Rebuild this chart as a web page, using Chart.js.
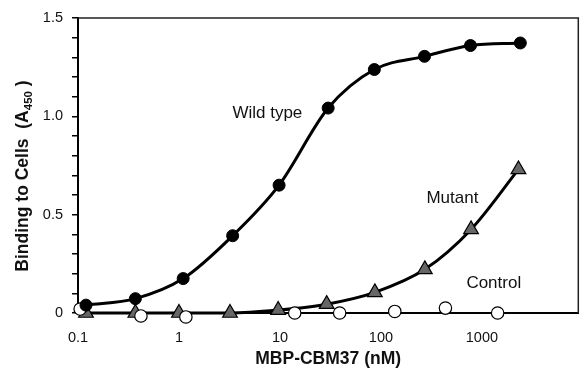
<!DOCTYPE html>
<html lang="en">
<head>
  <meta charset="UTF-8">
  <title>MBP-CBM37 binding</title>
  <script src="https://cdn.jsdelivr.net/npm/chart.js"></script>
  <style>
    html, body { margin: 0; padding: 0; background: #fff; }
    #wrap { width: 588px; height: 380px; position: relative; }
  </style>
</head>
<body>
  <div id="wrap"><canvas id="chart" width="588" height="380"></canvas></div>
  <script>
    // concentrations (nM) and A450 readings
    const wildX = [0.12, 0.37, 1.1, 3.4, 9.8, 30, 86, 270, 770, 2400];
    const wildY = [0.04, 0.073, 0.175, 0.393, 0.65, 1.042, 1.238, 1.305, 1.36, 1.373];

    const mutantX = [0.12, 0.37, 1.0, 3.2, 9.6, 29, 87, 272, 780, 2300];
    const mutantY = [0, 0, 0, 0, 0.015, 0.045, 0.105, 0.222, 0.425, 0.73];

    const controlX = [0.105, 0.42, 1.17, 14, 39, 137, 435, 1430];
    const controlY = [0.02, -0.015, -0.02, 0, 0, 0.008, 0.025, 0];

    const xTicks = [0.1, 1, 10, 100, 1000];
    const yLabelTicks = [0, 0.5, 1.0, 1.5];

    // curve names written inside the plot, at data coordinates
    const curveNames = ['Wild type', 'Mutant', 'Control'];
    const nameAt = [[7.5, 1.013], [510, 0.581], [1310, 0.149]];

    const pts = (xs, ys) => xs.map((x, i) => ({ x: x, y: ys[i] }));
    const FONT = '"Liberation Sans", Arial, sans-serif';

    // box around plot + in-plot names + y title with subscript
    const extras = {
      id: 'extras',
      afterDatasetsDraw(chart) {
        const { ctx, chartArea: a, scales } = chart;
        ctx.save();
        ctx.strokeStyle = '#222';
        ctx.lineWidth = 1.5;
        ctx.beginPath();
        ctx.moveTo(a.left, a.top);
        ctx.lineTo(a.right, a.top);
        ctx.lineTo(a.right, a.bottom);
        ctx.stroke();

        ctx.fillStyle = '#111';
        ctx.font = '17px ' + FONT;
        ctx.textAlign = 'center';
        ctx.textBaseline = 'middle';
        curveNames.forEach((t, i) => {
          ctx.fillText(t, scales.x.getPixelForValue(nameAt[i][0]), scales.y.getPixelForValue(nameAt[i][1]));
        });
        ctx.restore();
      },
      afterDraw(chart) {
        const { ctx } = chart;
        const big = 'bold 17.5px ' + FONT;
        const small = 'bold 11.5px ' + FONT;
        const p1 = 'Binding to Cells  (A', p2 = '450', p3 = ' )';
        ctx.save();
        ctx.font = big;
        const w1 = ctx.measureText(p1).width, w3 = ctx.measureText(p3).width;
        ctx.font = small;
        const w2 = ctx.measureText(p2).width;
        const total = w1 + w2 + w3;
        ctx.translate(28, 176);
        ctx.rotate(-Math.PI / 2);
        ctx.fillStyle = '#111';
        ctx.textBaseline = 'alphabetic';
        ctx.textAlign = 'left';
        let x = -total / 2;
        ctx.font = big;
        ctx.fillText(p1, x, 0);
        x += w1;
        ctx.font = small;
        ctx.fillText(p2, x, 4);
        x += w2;
        ctx.font = big;
        ctx.fillText(p3, x, 0);
        ctx.restore();
      }
    };

    new Chart(document.getElementById('chart'), {
      type: 'scatter',
      data: {
        datasets: [
          {
            label: 'Wild type',
            data: pts(wildX, wildY),
            showLine: true,
            borderColor: '#000',
            borderWidth: 3,
            cubicInterpolationMode: 'monotone',
            pointStyle: 'circle',
            pointRadius: 6,
            pointBackgroundColor: '#000',
            pointBorderColor: '#000',
            pointBorderWidth: 1,
            clip: false
          },
          {
            label: 'Control',
            data: pts(controlX, controlY),
            showLine: false,
            pointStyle: 'circle',
            pointRadius: 6.2,
            pointBackgroundColor: '#fff',
            pointBorderColor: '#000',
            pointBorderWidth: 1.2,
            clip: false
          },
          {
            label: 'Mutant',
            data: pts(mutantX, mutantY),
            showLine: true,
            borderColor: '#000',
            borderWidth: 3,
            cubicInterpolationMode: 'monotone',
            pointStyle: 'triangle',
            pointRadius: 8.5,
            pointBackgroundColor: '#666',
            pointBorderColor: '#000',
            pointBorderWidth: 1.2,
            clip: false
          }
        ]
      },
      options: {
        responsive: false,
        animation: false,
        layout: { padding: { top: 18, right: 2, bottom: 0, left: 0 } },
        plugins: { legend: { display: false }, tooltip: { enabled: false } },
        scales: {
          x: {
            type: 'logarithmic',
            min: 0.1,
            max: 9000,
            afterBuildTicks: s => { s.ticks = xTicks.map(v => ({ value: v })); },
            afterFit: s => { s.height = 67; },
            grid: { display: false },
            border: { display: true, color: '#000', width: 2 },
            ticks: {
              color: '#111',
              font: { family: FONT, size: 14.5 },
              padding: 8,
              maxRotation: 0,
              autoSkip: false,
              callback: v => String(v)
            },
            title: {
              display: true,
              text: 'MBP-CBM37 (nM)',
              color: '#111',
              font: { family: FONT, size: 17.5, weight: 'bold' },
              padding: { top: 0, bottom: 10 }
            }
          },
          y: {
            min: 0,
            max: 1.5,
            afterFit: s => { s.width = 78; },
            grid: { display: true, drawOnChartArea: false, drawTicks: true, tickLength: 6, color: '#000', lineWidth: 1.5 },
            border: { display: true, color: '#000', width: 2 },
            ticks: {
              stepSize: 0.1,
              color: '#111',
              font: { family: FONT, size: 14.5 },
              padding: 9,
              autoSkip: false,
              callback: v => {
                const hit = yLabelTicks.find(t => Math.abs(t - v) < 1e-6);
                if (hit === undefined) return '';
                return hit === 0 ? '0' : hit.toFixed(1);
              }
            }
          }
        }
      },
      plugins: [extras]
    });
  </script>
</body>
</html>
